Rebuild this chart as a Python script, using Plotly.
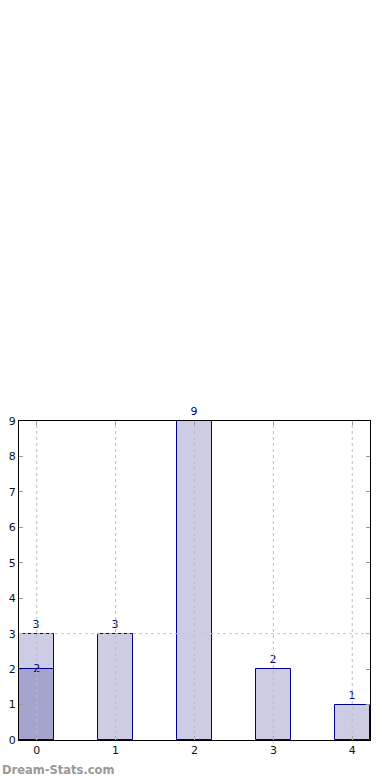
import plotly.graph_objects as go

categories = [0, 1, 2, 3, 4]
values_total = [3, 3, 9, 2, 1]
overlay_cats = [0]
overlay_values = [2]
ref_level = 3
y_ticks = [0, 1, 2, 3, 4, 5, 6, 7, 8, 9]

BAR_W = 0.45
fig = go.Figure()
fig.add_trace(go.Bar(
    x=categories, y=values_total, width=BAR_W,
    marker=dict(color="#ccccE4", line=dict(color="#00008b", width=1)),
    text=[str(v) for v in values_total], textposition="outside",
    textfont=dict(color="#00007a", size=11, family="DejaVu Sans"),
    cliponaxis=False, showlegend=False, hoverinfo="skip",
))
fig.add_trace(go.Bar(
    x=overlay_cats, y=overlay_values, width=BAR_W,
    marker=dict(color="#a4a4cf", line=dict(color="#00008b", width=1)),
    showlegend=False, hoverinfo="skip",
))
fig.add_trace(go.Scatter(
    x=overlay_cats, y=overlay_values, mode="text",
    text=[str(v) for v in overlay_values], textposition="middle center",
    textfont=dict(color="#00007a", size=11, family="DejaVu Sans"),
    cliponaxis=False, showlegend=False, hoverinfo="skip",
))

shapes = []
for c in categories:
    shapes.append(dict(type="line", xref="x", yref="y", x0=c, x1=c, y0=0, y1=max(y_ticks),
                       line=dict(color="#bdbdbd", width=1, dash="dot"), layer="above"))
shapes.append(dict(type="line", xref="paper", yref="y", x0=0, x1=1, y0=ref_level, y1=ref_level,
                   line=dict(color="#c8c8c8", width=1, dash="dot"), layer="above"))

fig.update_layout(
    width=390, height=780,
    margin=dict(l=19, r=20, t=421, b=40, autoexpand=False),
    paper_bgcolor="white", plot_bgcolor="white",
    barmode="overlay", bargap=0,
    font=dict(family="DejaVu Sans", size=11, color="#111111"),
    shapes=shapes,
    xaxis=dict(range=[-BAR_W / 2, max(categories) + BAR_W / 2], tickvals=categories,
               ticktext=[str(c) for c in categories], automargin=False,
               showgrid=False, zeroline=False, showline=True, linecolor="black", linewidth=1,
               mirror="ticks", ticks="inside", ticklen=4, tickcolor="#999999", layer="above traces"),
    yaxis=dict(range=[0, max(y_ticks)], tickvals=y_ticks, automargin=False,
               showgrid=False, zeroline=False, showline=True, linecolor="black", linewidth=1,
               mirror="ticks", ticks="inside", ticklen=4, tickcolor="#999999", layer="above traces"),
    annotations=[dict(text="Dream-Stats.com", xref="paper", yref="paper", x=-19/351, y=-30/319,
                      xanchor="left", yanchor="middle", showarrow=False,
                      font=dict(family="DejaVu Sans", size=11.5, color="#999999", weight=600))],
)

fig.write_html("out.html")
